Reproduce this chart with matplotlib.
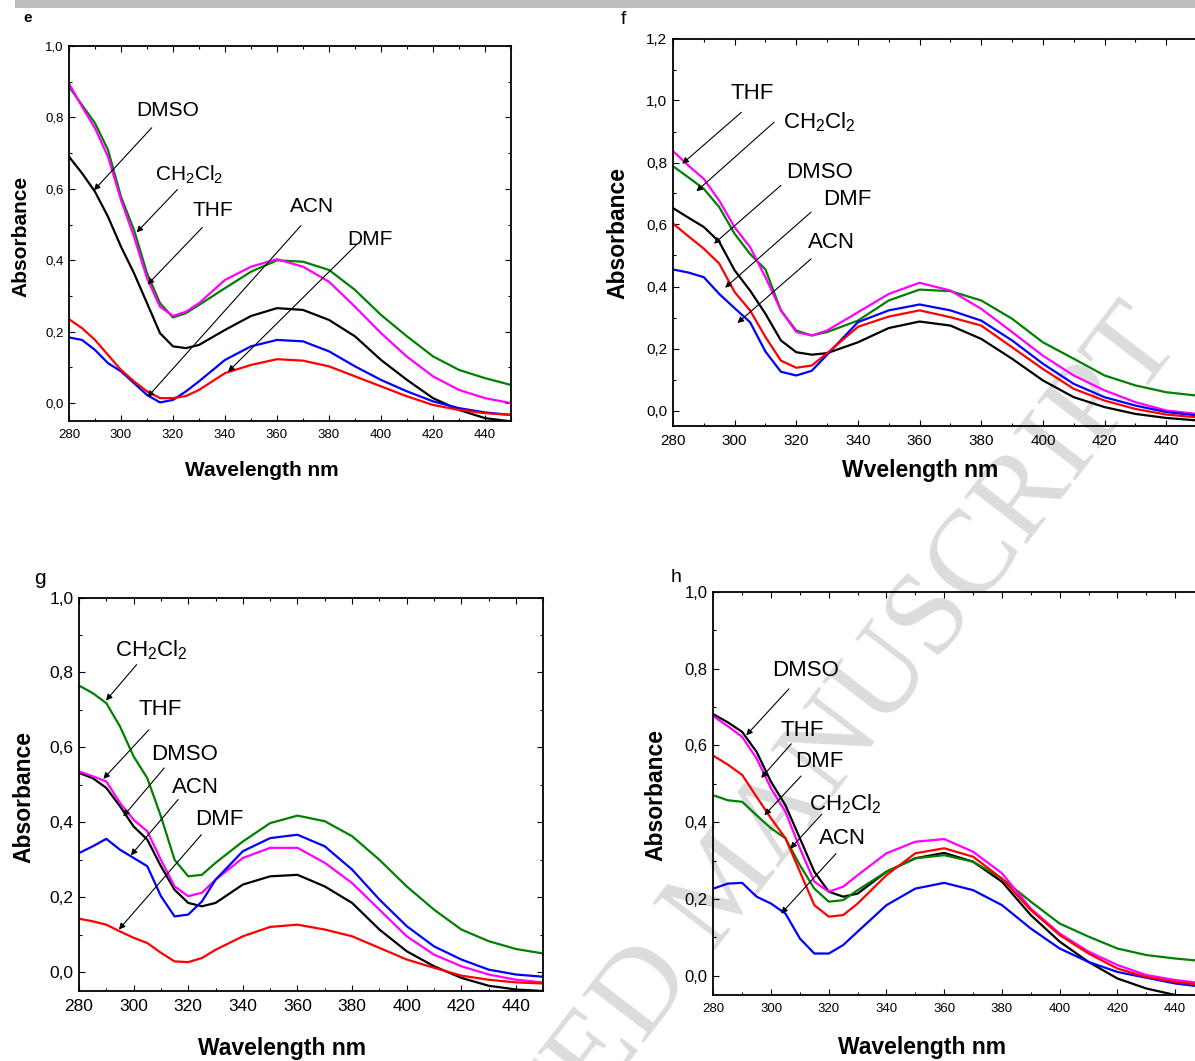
import matplotlib
matplotlib.use('Agg')
import matplotlib.pyplot as plt
from matplotlib.patches import Rectangle
from matplotlib.ticker import MultipleLocator, FuncFormatter

plt.rcParams['font.family'] = ['Liberation Sans', 'DejaVu Sans']
plt.rcParams['mathtext.default'] = 'regular'

W, H = 1195, 1061

# wavelength grid (nm)
wl = [280, 285, 290, 295, 300, 305, 310, 315, 320, 325, 330, 340, 350, 360,
      370, 380, 390, 400, 410, 420, 430, 440, 450]

solvents = ['DMSO', 'CH2Cl2', 'THF', 'ACN', 'DMF']
colors = {'DMSO': 'black', 'CH2Cl2': '#008000', 'THF': '#ff00ff',
          'ACN': '#0000ff', 'DMF': '#ff0000'}
names = {'DMSO': 'DMSO', 'CH2Cl2': 'CH$_2$Cl$_2$', 'THF': 'THF',
         'ACN': 'ACN', 'DMF': 'DMF'}

# panel e
e_dmso = [.69, .644, .592, .522, .438, .364, .28, .196, .159, .154, .163, .205, .244, .266,
          .261, .233, .187, .121, .065, .014, -.019, -.042, -.051]
e_ch2cl2 = [.886, .835, .784, .709, .578, .485, .364, .28, .24, .252, .275, .322, .368, .40,
            .396, .373, .317, .247, .187, .131, .093, .07, .051]
e_thf = [.895, .83, .77, .69, .569, .466, .35, .27, .244, .256, .28, .345, .382, .403,
         .382, .34, .27, .196, .13, .075, .037, .014, 0.0]
e_acn = [.184, .177, .149, .112, .089, .056, .023, .002, .009, .033, .061, .121, .159, .177,
         .173, .145, .103, .065, .033, .005, -.014, -.026, -.033]
e_dmf = [.235, .21, .177, .135, .093, .061, .033, .014, .014, .02, .037, .084, .107, .123,
         .119, .103, .075, .047, .019, -.005, -.019, -.028, -.033]

# panel f
f_dmso = [.653, .622, .592, .544, .452, .387, .312, .226, .188, .18, .185, .22, .266, .287,
          .274, .231, .167, .097, .043, .011, -.011, -.024, -.032]
f_ch2cl2 = [.788, .752, .715, .656, .57, .505, .455, .323, .258, .242, .253, .29, .355, .39,
            .385, .355, .296, .22, .167, .113, .081, .059, .048]
f_thf = [.837, .79, .747, .677, .591, .527, .43, .323, .253, .242, .258, .317, .376, .412,
         .387, .328, .253, .177, .113, .065, .027, 0.0, -.011]
f_acn = [.455, .445, .43, .376, .33, .285, .19, .125, .113, .128, .18, .285, .323, .342,
         .323, .29, .226, .151, .086, .043, .016, -.005, -.016]
f_dmf = [.603, .562, .522, .474, .382, .323, .237, .161, .138, .145, .185, .27, .303, .323,
         .301, .274, .204, .134, .07, .032, .005, -.013, -.022]

# panel g
g_dmso = [.532, .518, .492, .443, .389, .354, .283, .22, .185, .176, .185, .234, .256, .26,
          .229, .185, .114, .056, .016, -.015, -.036, -.046, -.05]
g_ch2cl2 = [.765, .745, .718, .656, .576, .518, .416, .30, .256, .26, .292, .349, .398, .418,
            .403, .363, .30, .229, .167, .114, .083, .062, .05]
g_thf = [.536, .523, .509, .452, .407, .376, .30, .229, .203, .212, .247, .305, .332, .332,
         .292, .238, .167, .096, .047, .016, -.006, -.02, -.027]
g_acn = [.318, .336, .356, .327, .305, .283, .203, .149, .154, .189, .247, .323, .358, .367,
         .336, .274, .194, .123, .069, .034, .007, -.006, -.012]
g_dmf = [.143, .136, .127, .109, .092, .078, .052, .029, .027, .038, .06, .096, .121, .127,
         .114, .096, .065, .034, .012, -.009, -.02, -.027, -.03]

# panel h
h_dmso = [.681, .66, .635, .583, .505, .444, .358, .271, .219, .206, .214, .271, .306, .32,
          .297, .245, .158, .089, .036, -.007, -.033, -.05, -.059]
h_ch2cl2 = [.47, .457, .453, .418, .384, .358, .288, .227, .193, .197, .223, .271, .306, .314,
            .297, .253, .193, .136, .102, .071, .054, .045, .038]
h_thf = [.676, .65, .622, .566, .488, .427, .332, .245, .219, .232, .262, .319, .349, .356,
         .323, .267, .175, .11, .063, .028, .002, -.011, -.02]
h_acn = [.227, .24, .242, .206, .188, .162, .097, .058, .058, .08, .115, .184, .227, .242,
         .223, .184, .123, .071, .036, .01, -.005, -.02, -.029]
h_dmf = [.573, .55, .523, .466, .41, .358, .271, .184, .154, .158, .188, .262, .319, .332,
         .31, .253, .171, .106, .058, .019, -.003, -.016, -.024]

panels = {
    'e': dict(data={'DMSO': e_dmso, 'CH2Cl2': e_ch2cl2, 'THF': e_thf, 'ACN': e_acn, 'DMF': e_dmf},
              box=(69, 46, 511, 421), ymax=1.0, xlabel='Wavelength nm', right=True,
              xl=(0.437, -0.131), yl=(-0.109, 0.493), tick=9.5, xtick=9.5, lab=15, ann=15,
              letter=(28, 18), lsize=11, lweight='bold',
              notes=[('DMSO', (317.9, 0.818), (311.8, 0.771), (289.6, 0.596)),
                     ('CH2Cl2', (326.3, 0.640), (321.7, 0.598), (306.0, 0.478)),
                     ('THF', (335.5, 0.539), (331.3, 0.492), (310.2, 0.332)),
                     ('ACN', (373.4, 0.550), (369.2, 0.497), (310.2, 0.017)),
                     ('DMF', (395.6, 0.458), (390.6, 0.444), (341.2, 0.088))]),
    'f': dict(data={'DMSO': f_dmso, 'CH2Cl2': f_ch2cl2, 'THF': f_thf, 'ACN': f_acn, 'DMF': f_dmf},
              box=(673, 38.5, 1197, 426), ymax=1.2, xlabel='Wvelength nm', right=False,
              xl=(0.471, -0.114), yl=(-0.106, 0.498), tick=11, xtick=11, lab=16.5, ann=16,
              letter=(623, 20), lsize=14, lweight='normal',
              notes=[('THF', (305.8, 1.022), (302.2, 0.962), (283.0, 0.796)),
                     ('CH2Cl2', (327.5, 0.930), (312.8, 0.930), (287.6, 0.707)),
                     ('DMSO', (327.5, 0.769), (315.0, 0.726), (293.3, 0.538)),
                     ('DMF', (336.5, 0.680), (324.8, 0.640), (296.9, 0.396)),
                     ('ACN', (331.3, 0.543), (324.8, 0.489), (300.9, 0.282))]),
    'g': dict(data={'DMSO': g_dmso, 'CH2Cl2': g_ch2cl2, 'THF': g_thf, 'ACN': g_acn, 'DMF': g_dmf},
              box=(79, 597.5, 543.3, 991), ymax=1.0, xlabel='Wavelength nm', right=True,
              xl=(0.437, -0.145), yl=(-0.118, 0.493), tick=12.5, xtick=12.5, lab=16.5, ann=16,
              letter=(40, 578), lsize=15, lweight='normal',
              notes=[('CH2Cl2', (306.6, 0.860), (301.1, 0.821), (289.9, 0.725)),
                     ('THF', (309.6, 0.702), (305.6, 0.647), (288.9, 0.516)),
                     ('DMSO', (318.7, 0.582), (311.2, 0.545), (296.2, 0.416)),
                     ('ACN', (322.7, 0.492), (316.3, 0.461), (299.0, 0.312)),
                     ('DMF', (331.5, 0.407), (324.8, 0.367), (294.6, 0.114))]),
    'h': dict(data={'DMSO': h_dmso, 'CH2Cl2': h_ch2cl2, 'THF': h_thf, 'ACN': h_acn, 'DMF': h_dmf},
              box=(713.3, 591.7, 1204, 995), ymax=1.0, xlabel='Wavelength nm', right=False,
              xl=(0.425, -0.131), yl=(-0.117, 0.496), tick=12, xtick=9.5, lab=16.5, ann=16,
              letter=(676, 578), lsize=14, lweight='normal',
              notes=[('DMSO', (312.1, 0.795), (306.2, 0.747), (291.4, 0.626)),
                     ('THF', (310.8, 0.639), (307.0, 0.604), (296.6, 0.515)),
                     ('DMF', (316.7, 0.559), (310.4, 0.520), (297.7, 0.418)),
                     ('CH2Cl2', (325.6, 0.447), (317.6, 0.421), (306.7, 0.331)),
                     ('ACN', (324.8, 0.357), (322.5, 0.318), (303.5, 0.162))]),
}

comma = FuncFormatter(lambda v, p: f'{v:.1f}'.replace('.', ','))

fig = plt.figure(figsize=(W / 100, H / 100), dpi=100)

# grey header bar
fig.patches.append(Rectangle((15 / W, 1 - 8 / H), (W - 15) / W, 8 / H,
                             transform=fig.transFigure, color='#bdbdbd', lw=0))

# watermark
fig.text(728 / W, 1 - 886 / H, 'ACCEPTED MANUSCRIPT', rotation=52.5,
         rotation_mode='anchor', ha='center', va='center', fontsize=86,
         family=['Liberation Serif', 'DejaVu Serif'], color='#dcdcdc', zorder=-1)

for key, p in panels.items():
    l, t, r, b = p['box']
    ax = fig.add_axes([l / W, 1 - b / H, (r - l) / W, (b - t) / H])
    ax.patch.set_alpha(0)
    for s in solvents:
        ax.plot(wl, p['data'][s], color=colors[s], lw=1.6, solid_joinstyle='round')
    ax.set_xlim(280, 450)
    ax.set_ylim(-0.05, p['ymax'])
    ax.xaxis.set_major_locator(MultipleLocator(20))
    ax.xaxis.set_minor_locator(MultipleLocator(10))
    ax.yaxis.set_major_locator(MultipleLocator(0.2))
    ax.yaxis.set_minor_locator(MultipleLocator(0.1))
    ax.yaxis.set_major_formatter(comma)
    ax.tick_params(which='both', direction='in', top=True, right=p['right'], width=0.8)
    ax.tick_params(which='major', length=4, pad=4)
    ax.tick_params(which='minor', length=2.5)
    ax.tick_params(axis='y', labelsize=p['tick'])
    ax.tick_params(axis='x', labelsize=p['xtick'], pad=6)
    for sp in ax.spines.values():
        sp.set_linewidth(1.3)

    ax.set_xlabel(p['xlabel'], fontsize=p['lab'], fontweight='bold')
    ax.set_ylabel('Absorbance', fontsize=p['lab'], fontweight='bold')
    ax.xaxis.set_label_coords(*p['xl'])
    ax.yaxis.set_label_coords(*p['yl'])
    ax.xaxis.label.set_va('center')
    ax.yaxis.label.set_va('center')

    for s, txt, tail, head in p['notes']:
        ax.annotate('', xy=head, xytext=tail,
                    arrowprops=dict(arrowstyle='-|>', color='black', lw=0.8,
                                    mutation_scale=9, shrinkA=0, shrinkB=0))
        ax.text(*txt, names[s], fontsize=p['ann'], ha='center', va='center')

    lx, ly = p['letter']
    fig.text(lx / W, 1 - ly / H, key, fontsize=p['lsize'], fontweight=p['lweight'],
             ha='center', va='center')

fig.savefig('out.png', dpi=100)
